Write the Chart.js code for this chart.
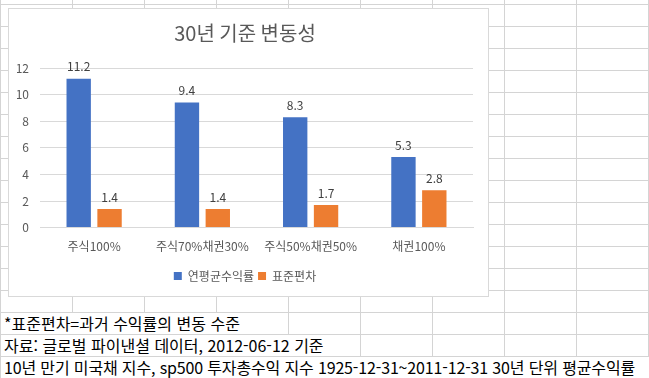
<!DOCTYPE html>
<html lang="ko">
<head>
<meta charset="utf-8">
<title>30년 기준 변동성</title>
<script src="https://cdn.jsdelivr.net/npm/chart.js"></script>
<style>
  html, body { margin: 0; padding: 0; background: #fff; }
  #sheet {
    position: relative;
    width: 649px;
    height: 378px;
    overflow: hidden;
    background-color: #fff;
    background-image:
      linear-gradient(to right, #d4d4d4 1px, transparent 1px),
      linear-gradient(to bottom, #d4d4d4 1px, transparent 1px);
    background-size: 72px 22px;
    background-position: 0 4px;
    font-family: 'Noto Sans CJK KR', 'Noto Sans', sans-serif;
  }
  #chart-box {
    position: absolute;
    left: 8px;
    top: 8px;
    width: 481px;
    height: 289px;
    box-sizing: border-box;
    border: 1px solid #d9d9d9;
    background: #fff;
  }
  .note {
    position: absolute;
    left: 1px;
    height: 21px;
    line-height: 21px;
    padding-left: 3px;
    box-sizing: border-box;
    background: #fff;
    color: #000;
    font-size: 16px;
    white-space: nowrap;
  }
</style>
</head>
<body>
<div id="sheet">
  <div id="chart-box"><canvas id="vol-chart" width="479" height="287"></canvas></div>
  <div class="note" style="top:313px; width:287px">*표준편차=과거 수익률의 변동 수준</div>
  <div class="note" style="top:335px; width:359px">자료: 글로벌 파이낸셜 데이터, 2012-06-12 기준</div>
  <div class="note" style="top:357px; width:648px; letter-spacing:-0.15px">10년 만기 미국채 지수, sp500 투자총수익 지수 1925-12-31~2011-12-31 30년 단위 평균수익률</div>
</div>
<script>
const portfolios = ['주식100%', '주식70%채권30%', '주식50%채권50%', '채권100%']
const annualReturn = [11.2, 9.4, 8.3, 5.3]
const stdDev = [1.4, 1.4, 1.7, 2.8]
const yTicks = [0, 2, 4, 6, 8, 10, 12]

const FONT = "'Noto Sans CJK KR', 'Noto Sans', sans-serif"

// values printed above each bar
const barLabels = {
  id: 'barLabels',
  afterDatasetsDraw(chart) {
    const { ctx } = chart
    ctx.save()
    ctx.font = `12px ${FONT}`
    ctx.fillStyle = '#404040'
    ctx.textAlign = 'center'
    ctx.textBaseline = 'middle'
    chart.data.datasets.forEach((ds, i) => {
      chart.getDatasetMeta(i).data.forEach((bar, j) => {
        ctx.fillText(ds.data[j].toFixed(1), bar.x, bar.y - 12)
      })
    })
    ctx.restore()
  }
}

new Chart(document.getElementById('vol-chart'), {
  type: 'bar',
  data: {
    labels: portfolios,
    datasets: [
      { label: '연평균수익률', data: annualReturn, backgroundColor: '#4472C4' },
      { label: '표준편차', data: stdDev, backgroundColor: '#ED7D31' }
    ]
  },
  options: {
    responsive: false,
    animation: false,
    devicePixelRatio: 1,
    categoryPercentage: 0.57,
    barPercentage: 0.79,
    layout: { padding: { left: 8, right: 15, top: 0, bottom: 4 } },
    plugins: {
      title: {
        display: true,
        text: '30년 기준 변동성',
        color: '#595959',
        font: { family: FONT, size: 20, weight: 'normal' },
        padding: { top: 12, bottom: 23 }
      },
      legend: {
        position: 'bottom',
        labels: {
          boxWidth: 8,
          boxHeight: 8,
          padding: 4,
          color: '#595959',
          font: { family: FONT, size: 12 }
        }
      },
      tooltip: { enabled: false }
    },
    scales: {
      x: {
        grid: { display: false, drawTicks: false },
        border: { color: '#d9d9d9' },
        ticks: { color: '#595959', padding: 12, font: { family: FONT, size: 12 } }
      },
      y: {
        min: 0,
        max: 12,
        afterFit: (scale) => { scale.width = 23 },
        afterBuildTicks: (scale) => { scale.ticks = yTicks.map(v => ({ value: v })) },
        grid: { color: '#d9d9d9', drawTicks: false },
        border: { display: false },
        ticks: { color: '#595959', padding: 11, font: { family: FONT, size: 12 } }
      }
    }
  },
  plugins: [barLabels]
})
</script>
</body>
</html>
